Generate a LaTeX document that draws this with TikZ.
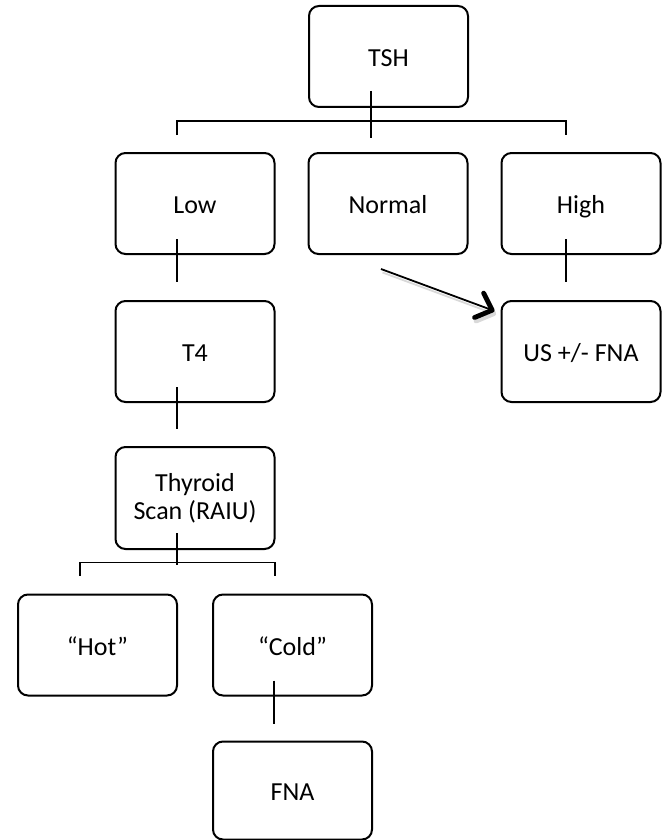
\documentclass[tikz,border=0pt]{standalone}
\usepackage{fontspec}
\setmainfont{Carlito}
\usetikzlibrary{arrows.meta,calc}
\begin{document}
\begin{tikzpicture}[x=0.5pt,y=-0.5pt,
  box/.style={draw=black,line width=1pt,rounded corners=5pt,fill=white,
    minimum width=79.5pt,minimum height=50.5pt,inner sep=0pt,
    font=\fontsize{13}{14}\selectfont},
  lbl/.style={box,text height=10pt,text depth=0pt},
  conn/.style={draw=black,line width=0.85pt},
  arrowline/.style={line width=0.9pt,-{Straight Barb[length=7pt,width=13pt,line width=2.4pt,round]}}]
\useasboundingbox (0,0) rectangle (661,840);
% boxes
\node[lbl] (tsh) at (388.5,56.5) {TSH};
\node[lbl] (low) at (195,203.5) {Low};
\node[lbl] (normal) at (388,203.5) {Normal};
\node[lbl] (high) at (581,203.5) {High};
\node[lbl] (t4) at (195,351.5) {T4};
\node[lbl] (us) at (581,351.5) {US +/- FNA};
\node[box,minimum height=51pt,align=center] (scan) at (195,498) {Thyroid\\Scan (RAIU)};
\node[lbl] (hot) at (97.5,645) {“Hot”};
\node[lbl] (cold) at (292.5,645) {“Cold”};
\node[lbl,minimum height=49pt] (fna) at (292.5,790.5) {FNA};
% connector coordinates
\coordinate (tshin) at ($(tsh.south)+(-17.5,-17)$);
\coordinate (tshout) at ($(tsh.south)+(-17.5,29.5)$);
\coordinate (lowtop) at ($(low.north)+(-18,-17)$);
\coordinate (hightop) at ($(high.north)+(-15,-17)$);
\coordinate (lowbot) at ($(low.south)+(-18,-16)$);
\coordinate (t4top) at ($(t4.north)+(-18,-18)$);
\coordinate (highbot) at ($(high.south)+(-15,-16)$);
\coordinate (ustop) at ($(us.north)+(-15,-18)$);
\coordinate (t4bot) at ($(t4.south)+(-18,-16)$);
\coordinate (scantop) at ($(scan.north)+(-18,-17)$);
\coordinate (scanbot) at ($(scan.south)+(-18,-17)$);
\coordinate (hottop) at ($(hot.north)+(-17.5,-18)$);
\coordinate (coldtop) at ($(cold.north)+(-17.5,-18)$);
\coordinate (coldbot) at ($(cold.south)+(-18.5,-16)$);
\coordinate (fnatop) at ($(fna.north)+(-18.5,-17)$);
\coordinate (arrS) at ($(normal.south)+(-7,14)$);
\coordinate (arrE) at ($(us.west)+(-6,-40.5)$);
% tree connectors
\draw[conn] (tshin) -- (tshout);
\draw[conn] (lowtop) -- ++(0,-14) -| (hightop);
\draw[conn] (lowbot) -- (t4top);
\draw[conn] (highbot) -- (ustop);
\draw[conn] (t4bot) -- (scantop);
\draw[conn] (scanbot) -- ++(0,32);
\draw[conn] (hottop) -- ++(0,-13) -| (coldtop);
\draw[conn] (coldbot) -- (fnatop);
% arrow with soft shadow
\draw[arrowline,draw=gray!30] ($(arrS)+(1.5,3.5)$) -- ($(arrE)+(1.5,3.5)$);
\draw[arrowline,draw=black] (arrS) -- (arrE);
\end{tikzpicture}
\end{document}
